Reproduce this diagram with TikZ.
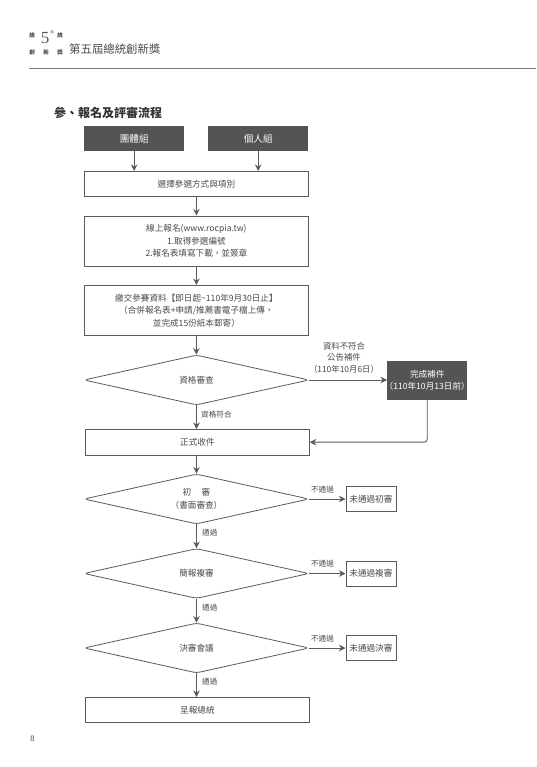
\documentclass[tikz,border=0pt]{standalone}
\usepackage{fontspec}
\setmainfont{Noto Sans CJK TC}
\newfontfamily\numfont{Liberation Serif}
\usetikzlibrary{shapes.geometric,arrows.meta}
\definecolor{ink}{HTML}{4A4A4A}
\definecolor{linec}{HTML}{5A5A5A}
\definecolor{dark}{HTML}{545454}
\tikzset{
  x=1pt,y=-1pt,
  basefont/.style={font=\fontsize{8.6}{12.5}\selectfont,text=ink},
  flowbox/.style={draw=linec,line width=.8pt,fill=white,basefont,align=center,inner sep=0pt,anchor=north west},
  darkbox/.style={draw=none,fill=dark,text=white,font=\fontsize{9.6}{12}\selectfont,align=center,inner sep=0pt,anchor=north west},
  decision/.style={diamond,draw=linec,line width=.8pt,rounded corners=3.5pt,fill=white,basefont,align=center,inner sep=0pt,aspect=4.46,minimum width=225pt,minimum height=50pt},
  flow/.style={draw=linec,line width=.9pt,-{Stealth[length=6.5pt,width=6.5pt]}},
  lab/.style={basefont,font=\fontsize{7.6}{10}\selectfont,inner sep=0pt},
  smallhead/.style={lab,font=\fontsize{5.5}{6}\bfseries\selectfont},
}
\begin{document}
\begin{tikzpicture}
\useasboundingbox (0,0) rectangle (536,767);
\fill[white] (0,0) rectangle (536,767);
% header
\node[smallhead] (h1) at (32,35) {總};
\node[smallhead] (h2) at (60,35) {統};
\node[lab,font=\numfont\fontsize{17}{17}\selectfont,text=linec] (h5) at (45,38) {5};
\node[lab,font=\fontsize{3.5}{4}\selectfont] (h3) at (52,32.5) {屆};
\node[smallhead] (h4) at (32,52) {創};
\node[smallhead] (h6) at (46,52) {新};
\node[smallhead] (h7) at (60,52) {獎};
\node[lab,font=\fontsize{11.4}{12}\selectfont,anchor=west] (htitle) at (69,49.5) {第五屆總統創新獎};
\node[lab,font=\fontsize{12}{13}\bfseries\selectfont,anchor=west,text=black!80] (title) at (54,113) {參、報名及評審流程};
\coordinate (ruleL) at (29,68);
\coordinate (ruleR) at (536,68);
\draw[draw=linec!80,line width=.8pt] (ruleL) -- (ruleR);
% boxes
\node[darkbox,minimum width=100pt,minimum height=25pt] (team) at (84,126) {團體組};
\node[darkbox,minimum width=100pt,minimum height=25pt] (solo) at (208,126) {個人組};
\node[flowbox,minimum width=224pt,minimum height=25pt] (choose) at (84,171) {選擇參選方式與項別};
\node[flowbox,minimum width=224pt,minimum height=50pt] (online) at (84,215.5) {線上報名(www.rocpia.tw)\\1.取得參選編號\\2.報名表填寫下載，並簽章};
\node[flowbox,minimum width=224pt,minimum height=50pt] (submit) at (84,285) {繳交參賽資料【即日起\textasciitilde110年9月30日止】\\（合併報名表+申請/推薦書電子檔上傳，\\並完成15份紙本郵寄）};
\node[decision] (qual) at (196.5,380) {資格審查};
\node[darkbox,minimum width=80pt,minimum height=39pt,font=\fontsize{8.6}{12.5}\selectfont] (fix) at (387,360.5) {完成補件\\\hspace*{-.45em}（110年10月13日前）\hspace*{-.45em}};
\node[flowbox,minimum width=224pt,minimum height=25.5pt] (accept) at (85,429) {正式收件};
\node[decision] (first) at (196.5,499) {初\hspace{1.2em}審\\（書面審查）};
\node[decision] (second) at (196.5,573.5) {簡報複審};
\node[decision] (final) at (196.5,648) {決審會議};
\node[flowbox,minimum width=224pt,minimum height=25pt] (report) at (85,697) {呈報總統};
\node[flowbox,minimum width=50pt,minimum height=25pt] (nofirst) at (345.5,486) {未通過初審};
\node[flowbox,minimum width=50pt,minimum height=25pt] (nosecond) at (345.5,560.5) {未通過複審};
\node[flowbox,minimum width=50pt,minimum height=25pt] (nofinal) at (345.5,635) {未通過決審};
% page number
\node[lab,font=\numfont\fontsize{8.5}{10}\selectfont] (pg) at (32.5,739) {8};
% connectors
\draw[flow] (team.south) -- (team.south |- choose.north);
\draw[flow] (solo.south) -- (solo.south |- choose.north);
\draw[flow] (choose.south) -- (online.north);
\draw[flow] (online.south) -- (submit.north);
\draw[flow] (submit.south) -- (submit.south |- qual.north);
\draw[flow] (qual.south) -- (qual.south |- accept.north);
\draw[flow] (qual.east) -- (fix.west |- qual.east);
\draw[flow,rounded corners=3pt] (fix.south) |- (accept.east);
\draw[flow] (accept.south -| first.north) -- (first.north);
\draw[flow] (first.south) -- (second.north);
\draw[flow] (second.south) -- (final.north);
\draw[flow] (final.south) -- (final.south |- report.north);
\draw[flow] (first.east) -- (nofirst.west |- first.east);
\draw[flow] (second.east) -- (nosecond.west |- second.east);
\draw[flow] (final.east) -- (nofinal.west |- final.east);
% labels
\node[lab,anchor=west] (l1) at (201,414.5) {資格符合};
\node[lab,font=\fontsize{8.4}{11.6}\selectfont,align=center] (l2) at (344,357.5) {資料不符合\\公告補件\\（110年10月6日）};
\node[lab,anchor=west] (l3) at (202,532.5) {通過};
\node[lab,anchor=west] (l4) at (202,607.5) {通過};
\node[lab,anchor=west] (l5) at (202,682) {通過};
\node[lab] (l6) at (322.5,489.5) {不通過};
\node[lab] (l7) at (322.5,564) {不通過};
\node[lab] (l8) at (322.5,639) {不通過};
\end{tikzpicture}
\end{document}
